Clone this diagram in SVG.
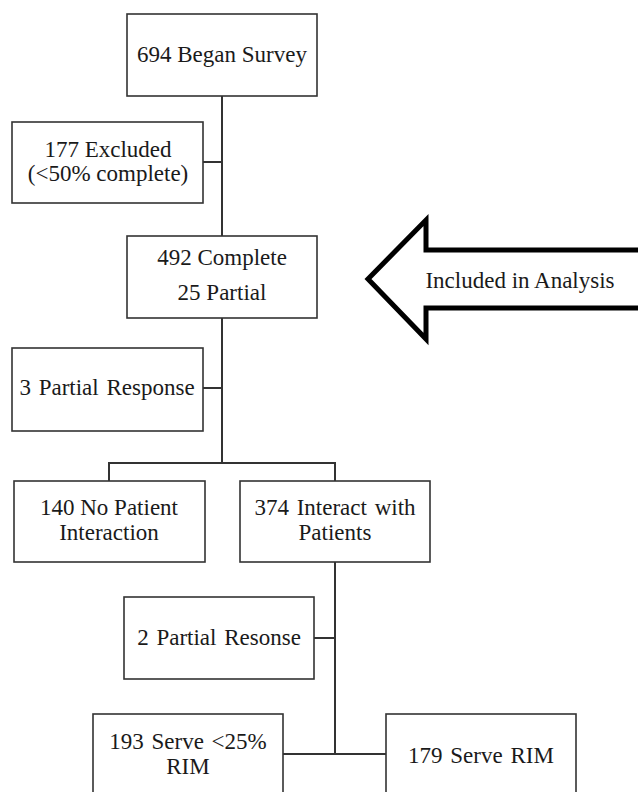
<svg xmlns="http://www.w3.org/2000/svg" width="638" height="792" viewBox="0 0 638 792">
<style>
.box{fill:#fff;stroke:#333;stroke-width:1.6}
.t{font-family:"Liberation Serif","Times New Roman",serif;font-size:23px;fill:#1a1a1a;text-anchor:middle}
.w{word-spacing:2px}
.c{fill:none;stroke:#333;stroke-width:2}
.arrow{fill:#fff;stroke:#000;stroke-width:5;stroke-linejoin:miter;stroke-miterlimit:10}
</style>
<rect width="638" height="792" fill="#fff"/>
<g id="connectors">
<path class="c" d="M222 96V236M203 162H222M222 318V463M203 388H222M109 481V463H335V481M335 562V754M314 638H335M283 754H386"/>
</g>
<g id="n1"><rect class="box" x="127" y="14" width="190" height="82"/><text class="t" x="222" y="62">694 Began Survey</text></g>
<g id="n2"><rect class="box" x="12" y="122" width="191" height="81"/><text class="t" x="108" y="157">177 Excluded</text><text class="t" x="108" y="181">(&lt;50% complete)</text></g>
<g id="n3"><rect class="box" x="127" y="236" width="190" height="82"/><text class="t" x="222" y="265">492 Complete</text><text class="t" x="222" y="300">25 Partial</text></g>
<g id="n4"><rect class="box" x="12" y="348" width="191" height="83"/><text class="t w" x="107" y="395">3 Partial Response</text></g>
<g id="arrow"><polygon class="arrow" points="368,279 426,220 426,250 645,250 645,308 426,308 426,339"/><text class="t" x="520" y="288">Included in Analysis</text></g>
<g id="n5"><rect class="box" x="14" y="481" width="191" height="81"/><text class="t" x="109" y="515">140 No Patient</text><text class="t" x="109" y="540">Interaction</text></g>
<g id="n6"><rect class="box" x="240" y="481" width="190" height="81"/><text class="t w" x="335" y="515">374 Interact with</text><text class="t" x="335" y="540">Patients</text></g>
<g id="n7"><rect class="box" x="124" y="597" width="190" height="82"/><text class="t w" x="219" y="645">2 Partial Resonse</text></g>
<g id="n8"><rect class="box" x="93" y="714" width="190" height="90"/><text class="t w" x="188" y="749">193 Serve &lt;25%</text><text class="t" x="188" y="774">RIM</text></g>
<g id="n9"><rect class="box" x="386" y="714" width="190" height="90"/><text class="t w" x="481" y="763">179 Serve RIM</text></g>
</svg>
